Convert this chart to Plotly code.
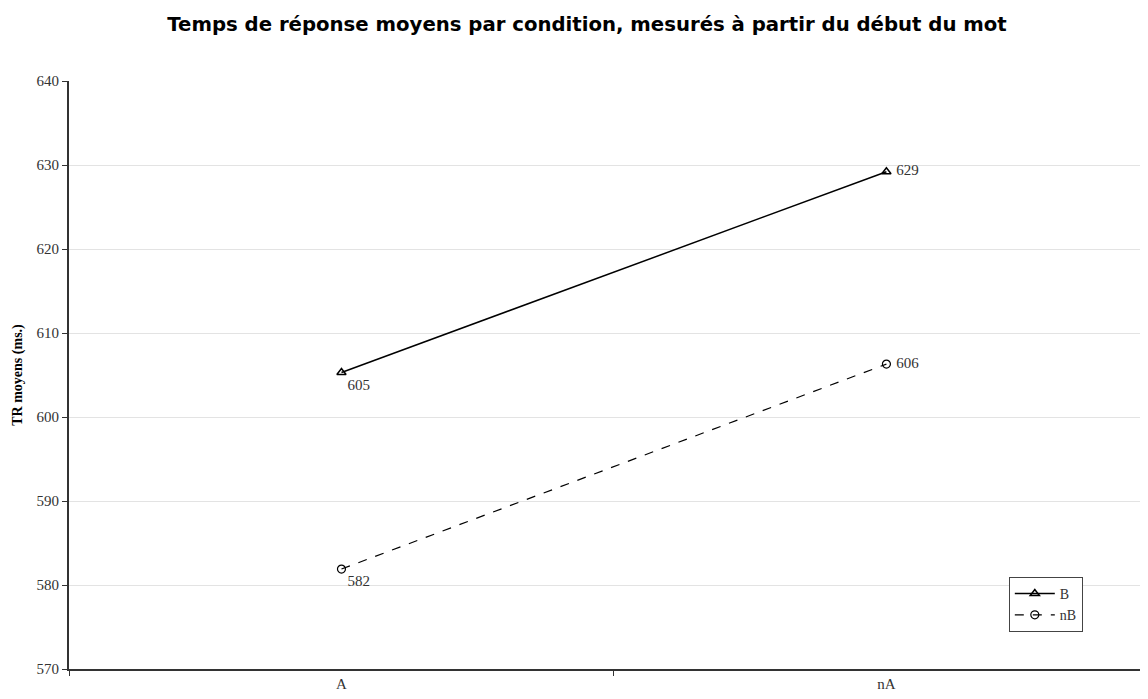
import plotly.graph_objects as go

categories = ["A", "nA"]
series_B = [605.3, 629.2]
series_nB = [581.9, 606.3]
labels_B = ["605", " 629"]
labels_nB = ["582", " 606"]
y_ticks = [570, 580, 590, 600, 610, 620, 630, 640]

serif = "Liberation Serif, Times New Roman, serif"

fig = go.Figure()
fig.add_trace(go.Scatter(
    x=categories, y=series_B, name="B", mode="lines+markers+text",
    line=dict(color="black", width=1.5),
    marker=dict(symbol="triangle-up-open", size=8, color="black", line=dict(width=1.5)),
    text=labels_B, textposition=["bottom right", "middle right"],
    textfont=dict(family=serif, size=15, color="#333"),
))
fig.add_trace(go.Scatter(
    x=categories, y=series_nB, name="nB", mode="lines+markers+text",
    line=dict(color="black", width=1.2, dash="dash"),
    marker=dict(symbol="circle-open", size=8, color="black", line=dict(width=1.2)),
    text=labels_nB, textposition=["bottom right", "middle right"],
    textfont=dict(family=serif, size=15, color="#333"),
))

W, H = 1140, 683
fig.update_layout(
    width=W, height=H,
    margin=dict(l=61, r=0, t=73, b=22),
    paper_bgcolor="white", plot_bgcolor="white",
    title=dict(text="<b>Temps de réponse moyens par condition, mesurés à partir du début du mot</b>",
               x=579 / W, xref="container", xanchor="center",
               y=1 - 16 / H, yref="container", yanchor="middle",
               font=dict(family="DejaVu Sans", size=19.7, color="black")),
    showlegend=True,
    legend=dict(x=0.871, y=0.1565, xanchor="left", yanchor="top",
                bordercolor="#444", borderwidth=1, bgcolor="white",
                font=dict(family=serif, size=14, color="#333"),
                tracegroupgap=0, itemwidth=40),
    xaxis=dict(type="category", range=[-0.5, 1.48],
               showline=True, linecolor="#333", linewidth=2,
               ticks="outside", tickson="boundaries", ticklen=5, tickcolor="#333",
               showgrid=False, zeroline=False,
               tickfont=dict(family=serif, size=15, color="#333")),
    yaxis=dict(range=[570, 640], tickvals=y_ticks,
               showline=True, linecolor="#333", linewidth=2,
               ticks="outside", ticklen=5, tickcolor="#333",
               showgrid=True, gridcolor="#e3e3e3", gridwidth=1, zeroline=False,
               tickfont=dict(family=serif, size=15, color="#333"),
               title=dict(text="<b>TR moyens (ms.)</b>", standoff=11,
                          font=dict(family=serif, size=14, color="black"))),
)

fig.write_html("out.html")
